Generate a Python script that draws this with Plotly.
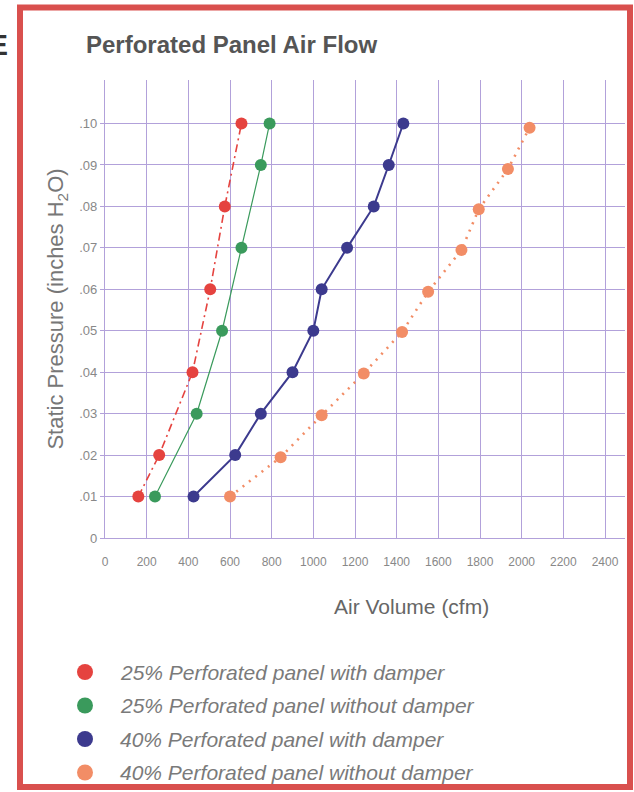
import plotly.graph_objects as go

# ---- data ----
pressure_ticks = [0, 0.01, 0.02, 0.03, 0.04, 0.05, 0.06, 0.07, 0.08, 0.09, 0.10]
pressure_ticktext = ["0", ".01", ".02", ".03", ".04", ".05", ".06", ".07", ".08", ".09", ".10"]
volume_ticks = [0, 200, 400, 600, 800, 1000, 1200, 1400, 1600, 1800, 2000, 2200, 2400]

s1_name = "25% Perforated panel with damper"
s1_cfm = [160, 260, 420, 505, 575, 655]
s1_pressure = [0.01, 0.02, 0.04, 0.06, 0.08, 0.10]

s2_name = "25% Perforated panel without damper"
s2_cfm = [240, 440, 562, 655, 748, 790]
s2_pressure = [0.01, 0.03, 0.05, 0.07, 0.09, 0.10]

s3_name = "40% Perforated panel with damper"
s3_cfm = [425, 625, 748, 900, 1000, 1040, 1162, 1290, 1362, 1432]
s3_pressure = [0.01, 0.02, 0.03, 0.04, 0.05, 0.06, 0.07, 0.08, 0.09, 0.10]

s4_name = "40% Perforated panel without damper"
s4_cfm = [600, 843, 1040, 1242, 1426, 1551, 1711, 1794, 1934, 2038]
s4_pressure = [0.01, 0.0195, 0.0296, 0.0397, 0.0497, 0.0594, 0.0695, 0.0793, 0.089, 0.099]

# ---- style ----
RED = "#e5433f"
GREEN = "#3a9a5c"
BLUE = "#3c3a8e"
ORANGE = "#f28d66"
GRID = "#b2a1da"
W, H = 634, 792
ML, MR, MT, MB = 105, 9, 80, 254
PW, PH = W - ML - MR, H - MT - MB


def px_x(px):
    return (px - ML) / PW


def px_y(py):
    return (H - MB - py) / PH


series = [
    (s1_name, s1_cfm, s1_pressure, RED, "8px,4px,2px,4px", 1.6),
    (s2_name, s2_cfm, s2_pressure, GREEN, "solid", 1.2),
    (s3_name, s3_cfm, s3_pressure, BLUE, "solid", 2),
    (s4_name, s4_cfm, s4_pressure, ORANGE, "2px,6px", 2.6),
]

fig = go.Figure()
for name, xs, ys, col, dash, lw in series:
    fig.add_trace(go.Scatter(
        x=xs, y=ys, mode="lines+markers", name=name, showlegend=False,
        line=dict(color=col, dash=dash, width=lw),
        marker=dict(color=col, size=12),
    ))

fig.update_layout(
    width=W, height=H,
    margin=dict(l=ML, r=MR, t=MT, b=MB, autoexpand=False),
    paper_bgcolor="white", plot_bgcolor="white",
    showlegend=False,
    font=dict(family="Liberation Sans, Arial, sans-serif", color="#777"),
    title=dict(text="<b>Perforated Panel Air Flow</b>", x=86 / W, xref="container",
               xanchor="left", y=1 - 45 / H, yanchor="middle", pad=dict(l=0, r=0, t=0, b=0),
               font=dict(size=24, color="#555")),
    xaxis=dict(range=[0, 2496], tickvals=volume_ticks, showgrid=True, automargin=False,
               gridcolor=GRID, gridwidth=1.2, showline=True, linecolor=GRID,
               linewidth=1.2, zeroline=False, ticks="", ticklabelstandoff=12,
               tickfont=dict(size=12, color="#888")),
    yaxis=dict(range=[0, 0.1105], tickvals=pressure_ticks, ticktext=pressure_ticktext,
               showgrid=True, gridcolor=GRID, gridwidth=1.2, showline=True, automargin=False,
               linecolor=GRID, linewidth=1.2, zeroline=False, ticks="outside",
               ticklen=4, tickcolor=GRID, tickwidth=1.2,
               tickfont=dict(size=13, color="#888"),
               title=dict(text="Static Pressure (inches H<sub>2</sub>O)",
                          font=dict(size=22, color="#777"), standoff=9)),
)

# x-axis title (sits right of centre in the original)
fig.add_annotation(text="Air Volume (cfm)", xref="paper", yref="paper",
                   x=px_x(411), y=px_y(606), xanchor="center", yanchor="middle",
                   showarrow=False, font=dict(size=21, color="#666"))

# legend drawn as circles + italic labels below the chart
legend_rows = [672, 705.5, 739, 772.5]
for (name, xs, ys, col, dash, lw), row in zip(series, legend_rows):
    fig.add_shape(type="circle", xref="paper", yref="paper",
                  xsizemode="pixel", ysizemode="pixel",
                  xanchor=px_x(85), yanchor=px_y(row),
                  x0=-8, x1=8, y0=-8, y1=8,
                  fillcolor=col, line=dict(color=col, width=0))
    fig.add_annotation(text="<i>" + name + "</i>", xref="paper", yref="paper",
                       x=px_x(118), y=px_y(row), xanchor="left", yanchor="middle",
                       showarrow=False, font=dict(size=21, color="#7a7a7a"))

# red frame around the whole card
fig.add_shape(type="rect", xref="paper", yref="paper",
              x0=px_x(20), x1=px_x(630), y0=px_y(787), y1=px_y(7.5),
              line=dict(color="#d9504e", width=6), fillcolor="rgba(0,0,0,0)", layer="above")

# cut-off character at the far left edge
fig.add_annotation(text="<b>E</b>", xref="paper", yref="paper", x=px_x(10), y=px_y(45),
                   xanchor="right", yanchor="middle", showarrow=False,
                   font=dict(size=30, color="#333"))

fig.write_html("out.html", config={"displayModeBar": False},
               post_script="document.body.style.margin='0px';")
